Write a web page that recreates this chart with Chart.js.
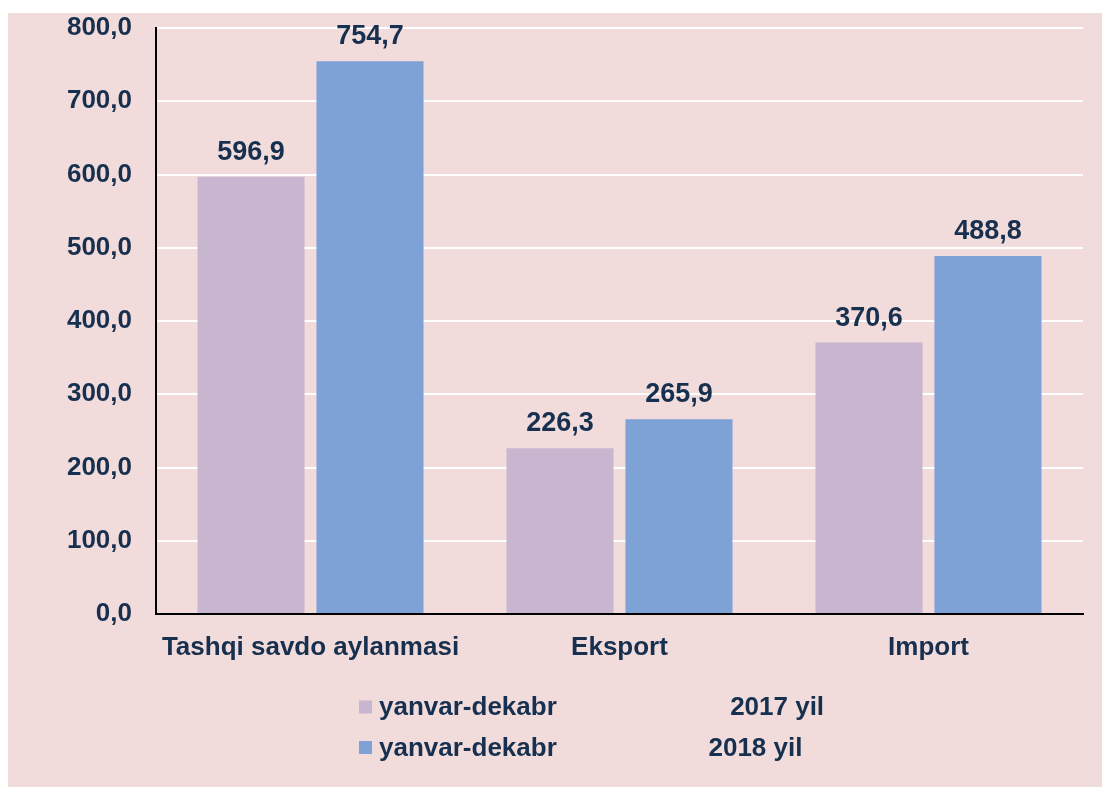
<!DOCTYPE html>
<html>
<head>
<meta charset="utf-8">
<script src="https://cdn.jsdelivr.net/npm/chart.js@4/dist/chart.umd.min.js"></script>
<style>
  body { margin: 0; background: #fff; }
  #chart { position: absolute; left: 8px; top: 13px; background: #f2dcdb; }
</style>
</head>
<body>
<canvas id="chart" width="1094" height="774"></canvas>
<script>
const categories = ['Tashqi savdo aylanmasi', 'Eksport', 'Import'];
const values2017 = [596.9, 226.3, 370.6];
const values2018 = [754.7, 265.9, 488.8];
const seriesNames = [
    'yanvar-dekabr                        2017 yil',
    'yanvar-dekabr                     2018 yil'
];
const seriesColors = ['#c8b5cf', '#7ea1d6'];
const textColor = '#17304f';
const fontFamily = "'Liberation Sans', Arial, sans-serif";

const fmt = v => v.toFixed(1).replace('.', ',');

    // Value labels above the bars
const valueLabels = {
    id: 'valueLabels',
    afterDatasetsDraw(chart) {
        const ctx = chart.ctx;
        ctx.save();
        ctx.font = 'bold 27px ' + fontFamily;
        ctx.fillStyle = textColor;
        ctx.textAlign = 'center';
        ctx.textBaseline = 'alphabetic';
        chart.data.datasets.forEach((ds, i) => {
            chart.getDatasetMeta(i).data.forEach((bar, j) => {
                ctx.fillText(fmt(ds.data[j]), bar.x, bar.y - 17);
            });
        });
        ctx.restore();
    }
};

    // Two-row legend under the chart
const rowLegend = {
    id: 'rowLegend',
    afterDraw(chart) {
        const ctx = chart.ctx;
        const left = chart.chartArea.left + 203;
        ctx.save();
        ctx.font = 'bold 26px ' + fontFamily;
        ctx.textBaseline = 'middle';
        ctx.textAlign = 'left';
        chart.data.datasets.forEach((ds, i) => {
            const y = chart.chartArea.bottom + 93 + i * 40.5;
            ctx.fillStyle = ds.backgroundColor;
            ctx.fillRect(left, y - 6.5, 13, 13);
            ctx.fillStyle = textColor;
            ctx.fillText(ds.label, left + 20, y + 1);
        });
        ctx.restore();
    }
};

new Chart(document.getElementById('chart').getContext('2d'), {
    type: 'bar',
    data: {
        labels: categories,
        datasets: [
            { label: seriesNames[0], data: values2017, backgroundColor: seriesColors[0] },
            { label: seriesNames[1], data: values2018, backgroundColor: seriesColors[1] }
        ]
    },
    options: {
        responsive: false,
        animation: false,
        categoryPercentage: 0.77,
        barPercentage: 0.9,
        layout: { padding: { top: 15, right: 19, bottom: 0, left: 0 } },
        plugins: {
            legend: { display: false },
            tooltip: { enabled: false }
        },
        scales: {
            x: {
                grid: { display: false, drawTicks: false },
                border: { display: true, color: '#000', width: 2 },
                ticks: {
                    color: textColor,
                    padding: 18,
                    maxRotation: 0,
                    font: { family: fontFamily, size: 26, weight: 'bold' }
                },
                afterFit(scale) { scale.height = 173; }
            },
            y: {
                min: 0,
                max: 800,
                grid: { color: '#ffffff', lineWidth: 2, drawTicks: false },
                border: { display: true, color: '#000', width: 2 },
                ticks: {
                    stepSize: 100,
                    color: textColor,
                    padding: 24,
                    font: { family: fontFamily, size: 26, weight: 'bold' },
                    callback: v => fmt(v)
                },
                afterFit(scale) {
                    scale.width = 148;
                    scale.paddingTop = 0;
                    scale.paddingBottom = 0;
                }
            }
        }
    },
    plugins: [valueLabels, rowLegend]
});
</script>
</body>
</html>
